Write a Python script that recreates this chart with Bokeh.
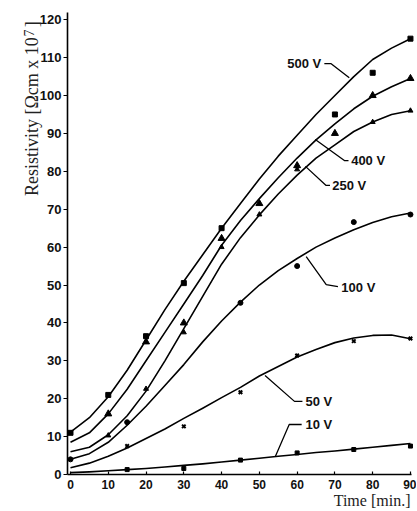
from math import pi
from bokeh.plotting import figure
from bokeh.models import Label, FixedTicker, Range1d
from bokeh.embed import file_html
from bokeh.resources import INLINE

# ---------------- data ----------------
curve_time = [0, 5, 10, 15, 20, 25, 30, 35, 40, 45, 50, 55, 60, 65, 70, 75, 80, 85, 90]
curve_500 = [11.2, 15.0, 20.5, 27.5, 35.5, 43.5, 51.0, 58.0, 65.0, 71.5, 78.0, 84.0, 89.5, 95.0, 100.0, 105.0, 109.5, 112.5, 115.0]
curve_400 = [8.5, 11.0, 16.0, 22.5, 30.0, 37.5, 45.0, 52.5, 60.5, 67.0, 72.8, 78.3, 83.5, 88.3, 92.5, 96.5, 99.8, 102.3, 104.5]
curve_250 = [6.0, 7.2, 10.5, 15.5, 22.0, 30.0, 38.5, 47.0, 55.5, 62.5, 68.5, 74.0, 79.0, 83.5, 87.0, 90.5, 93.0, 95.0, 96.0]
curve_100 = [4.0, 5.5, 8.5, 13.0, 18.0, 23.5, 29.0, 35.0, 40.5, 45.5, 50.0, 53.8, 57.0, 60.0, 62.4, 64.6, 66.5, 68.0, 69.0]
curve_50 = [1.8, 3.0, 4.8, 7.0, 9.5, 12.0, 14.8, 17.5, 20.3, 23.0, 26.0, 28.5, 31.0, 33.0, 34.8, 36.0, 36.7, 36.8, 35.8]
curve_10 = [0.5, 0.7, 1.0, 1.3, 1.6, 2.0, 2.4, 2.8, 3.3, 3.8, 4.3, 4.8, 5.3, 5.8, 6.2, 6.7, 7.2, 7.7, 8.2]

t_500 = [0, 10, 20, 30, 40, 70, 80, 90]
v_500 = [11.0, 21.0, 36.5, 50.5, 65.0, 95.0, 106.0, 115.0]
t_400 = [10, 20, 30, 40, 50, 60, 70, 80, 90]
v_400 = [16.0, 35.0, 40.0, 62.3, 71.5, 81.5, 90.0, 100.0, 104.5]
t_250 = [10, 20, 30, 40, 50, 60, 80, 90]
v_250 = [10.3, 22.6, 37.5, 60.0, 68.6, 80.5, 93.0, 96.0]
t_100 = [0, 15, 45, 60, 75, 90]
v_100 = [4.0, 13.8, 45.3, 55.0, 66.6, 68.6]
t_50 = [15, 30, 45, 60, 75, 90]
v_50 = [7.5, 12.7, 21.7, 31.4, 35.2, 35.9]
t_10 = [15, 30, 45, 60, 75, 90]
v_10 = [1.3, 1.6, 3.8, 5.7, 6.6, 7.5]

x_ticks = [0, 10, 20, 30, 40, 50, 60, 70, 80, 90]
y_ticks = [0, 10, 20, 30, 40, 50, 60, 70, 80, 90, 100, 110, 120]
series_names = ["500 V", "400 V", "250 V", "100 V", "50 V", "10 V"]

# ---------------- annotation placement (data coordinates) ----------------
label_pos = {
    "500 V": (57.4, 108.4),
    "400 V": (74.3, 82.8),
    "250 V": (69.3, 76.3),
    "100 V": (71.7, 49.3),
    "50 V": (62.2, 19.3),
    "10 V": (62.2, 13.2),
}
leaders = {
    "500 V": ([67.2, 69.0, 73.8], [108.4, 108.4, 104.7]),
    "400 V": ([73.6, 72.6, 64.8], [82.8, 82.8, 88.4]),
    "250 V": ([68.7, 67.6, 62.2], [76.3, 76.3, 81.3]),
    "100 V": ([70.8, 67.7, 62.4], [49.6, 50.1, 57.5]),
    "50 V": ([61.4, 59.3, 51.5], [19.3, 19.3, 26.1]),
    "10 V": ([61.2, 57.9, 54.2], [13.2, 13.2, 4.7]),
}

p = figure(
    output_backend="svg", toolbar_location=None,
    width=416, height=509, min_border=0,
    x_range=Range1d(-18.53, 91.6), y_range=Range1d(-9.23, 125.07),
)
p.outline_line_color = None
p.xgrid.visible = False
p.ygrid.visible = False
p.background_fill_color = "white"
p.border_fill_color = "white"

for ax in (p.xaxis[0], p.yaxis[0]):
    ax.axis_line_color = "black"
    ax.axis_line_width = 1.6
    ax.major_tick_line_color = "black"
    ax.major_tick_line_width = 1.2
    ax.minor_tick_line_color = None
    ax.major_label_text_font = "Liberation Sans"
    ax.major_label_text_font_style = "bold"
    ax.major_label_text_color = "#111111"

p.xaxis.fixed_location = 0
p.yaxis.fixed_location = -0.8
p.xaxis.bounds = (-0.8, 90.3)
p.yaxis.bounds = (0, 122.0)
p.xaxis.ticker = FixedTicker(ticks=x_ticks)
p.yaxis.ticker = FixedTicker(ticks=y_ticks)
p.xaxis.major_tick_in = 3
p.xaxis.major_tick_out = 0
p.xaxis.major_label_standoff = 5
p.xaxis.major_label_text_font_size = "12px"
p.yaxis.major_tick_in = 0
p.yaxis.major_tick_out = 4
p.yaxis.major_label_standoff = 2
p.yaxis.major_label_text_font_size = "13px"

curves = [curve_500, curve_400, curve_250, curve_100, curve_50, curve_10]
for c in curves:
    p.line(curve_time, c, line_color="black", line_width=1.6, line_join="round")

p.scatter(t_500, v_500, marker="square", size=5, color="black")
p.scatter(t_400, v_400, marker="triangle", size=7, color="black")
p.scatter(t_250, v_250, marker="triangle", size=5, color="black")
p.scatter(t_100, v_100, marker="circle", size=5, color="black")
p.scatter(t_50, v_50, marker="x", size=5, line_width=2, color="black")
p.scatter(t_10, v_10, marker="square", size=4, color="black")

for name in series_names:
    lx, ly = leaders[name]
    p.line(lx, ly, line_color="black", line_width=1.3)
    tx, ty = label_pos[name]
    p.add_layout(Label(x=tx, y=ty, text=name, text_font="Liberation Sans",
                       text_font_style="bold", text_font_size="13px",
                       text_baseline="middle", text_align="left", text_color="#111111"))

serif = "Liberation Serif"
p.add_layout(Label(x=-10.3, y=115.4, text="Resistivity [\u03a9cm x 10", angle=pi / 2,
                   text_font=serif, text_font_size="18px", text_baseline="alphabetic",
                   text_align="right", text_color="#222222"))
p.add_layout(Label(x=-11.1, y=115.6, text="7", angle=pi / 2,
                   text_font=serif, text_font_size="14px", text_baseline="alphabetic",
                   text_align="left", text_color="#222222"))
p.add_layout(Label(x=-10.3, y=118.0, text="]", angle=pi / 2,
                   text_font=serif, text_font_size="18px", text_baseline="alphabetic",
                   text_align="left", text_color="#222222"))
p.add_layout(Label(x=90.0, y=-6.8, text="Time [min.]",
                   text_font=serif, text_font_size="16px", text_baseline="alphabetic",
                   text_align="right", text_color="#222222"))

open("out.html", "w").write(file_html(p, INLINE))
